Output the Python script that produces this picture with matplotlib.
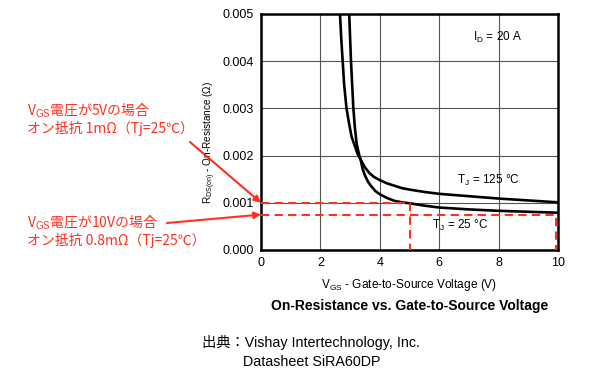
import matplotlib
matplotlib.use("Agg")
import matplotlib.pyplot as plt

plt.rcParams['font.family'] = ['Liberation Sans', 'Noto Sans CJK JP', 'DejaVu Sans']
plt.rcParams['mathtext.fontset'] = 'custom'
plt.rcParams['mathtext.rm'] = 'Liberation Sans'
plt.rcParams['mathtext.it'] = 'Liberation Sans'

# R_DS(on) vs V_GS (I_D = 20 A)
vgs_125 = [2.62, 2.66, 2.70, 2.75, 2.80, 2.88, 2.96, 3.05, 3.15, 3.25, 3.36, 3.50, 3.65,
           3.80, 4.00, 4.25, 4.50, 4.75, 5.0, 5.5, 6, 7, 8, 9, 10]
rds_125 = [0.0055, 0.0050, 0.0045, 0.0040, 0.0035, 0.0030, 0.0027, 0.0024, 0.00222, 0.00204,
           0.00191, 0.00175, 0.00163, 0.00155, 0.00148, 0.00141, 0.00136, 0.00131, 0.00128,
           0.00123, 0.00119, 0.00114, 0.00109, 0.00105, 0.00101]
vgs_25 = [2.95, 2.97, 3.00, 3.03, 3.07, 3.11, 3.16, 3.22, 3.30, 3.36, 3.42, 3.50, 3.60, 3.70,
          3.85, 4.00, 4.25, 4.50, 4.75, 5.0, 5.5, 6, 7, 8, 9, 10]
rds_25 = [0.0055, 0.0050, 0.0045, 0.0040, 0.0035, 0.0030, 0.0026, 0.00225, 0.00203, 0.0019,
          0.00172, 0.00158, 0.00145, 0.00136, 0.00125, 0.00118, 0.00110, 0.00104, 0.00101,
          0.00099, 0.00094, 0.00090, 0.00086, 0.00083, 0.00081, 0.00079]

# marked operating points
pt5_v, pt5_r = 5, 0.001
pt10_v, pt10_r = 9.94, 0.00075

xticks = [0, 2, 4, 6, 8, 10]
yticks = [0.000, 0.001, 0.002, 0.003, 0.004, 0.005]

RED = '#ff3020'
JP = ['Noto Sans CJK JP', 'DejaVu Sans']

fig = plt.figure(figsize=(6, 3.78), dpi=100)
ax = fig.add_axes([261/600, 1-250/378, 297/600, 236/378])

ax.plot(vgs_125, rds_125, color='black', lw=1.9, zorder=3)
ax.plot(vgs_25, rds_25, color='black', lw=1.9, zorder=3)

ax.plot([0, pt5_v, pt5_v], [pt5_r, pt5_r, 0], color=RED, lw=1.5, ls=(0, (4, 2.5)), zorder=4, clip_on=False)
ax.plot([0, pt10_v, pt10_v], [pt10_r, pt10_r, 0], color=RED, lw=1.5, ls=(0, (4, 2.5)), zorder=4, clip_on=False)

ax.set_xlim(0, 10)
ax.set_ylim(0, 0.005)
ax.set_xticks(xticks)
ax.set_yticks(yticks)
ax.set_yticklabels([f'{v:.3f}' for v in yticks])
ax.tick_params(length=0, labelsize=9, pad=5)
ax.grid(True, color='#555555', lw=0.8)
ax.set_axisbelow(True)
for s in ax.spines.values():
    s.set_linewidth(1.8)

ax.set_xlabel(r'V$_{\mathrm{GS}}$ - Gate-to-Source Voltage (V)', fontsize=8.6, labelpad=6)
ax.set_ylabel(r'R$_{\mathrm{DS(on)}}$ - On-Resistance (Ω)', fontsize=7.2)
ax.yaxis.set_label_coords(-0.145, 0.458)

ax.text(7.95, 0.00451, r'I$_{\mathrm{D}}$ = 20 A', fontsize=8.5, ha='center', va='center')
ax.text(7.64, 0.00148, r'T$_{\mathrm{J}}$ = 125 °C', fontsize=8.5, ha='center', va='center')
ax.text(6.7, 0.00051, r'T$_{\mathrm{J}}$ = 25 °C', fontsize=8.5, ha='center', va='center')

# red notes with arrows
fig.text(27/600, 1-111/378, 'V$_{\\mathrm{GS}}$電圧が5Vの場合', color=RED, fontsize=10, family=JP, va='center')
fig.text(27/600, 1-128/378, 'オン抵抗 1mΩ（Tj=25℃）', color=RED, fontsize=10, family=JP, va='center')
fig.text(27/600, 1-223/378, 'V$_{\\mathrm{GS}}$電圧が10Vの場合', color=RED, fontsize=10, family=JP, va='center')
fig.text(27/600, 1-240/378, 'オン抵抗 0.8mΩ（Tj=25℃）', color=RED, fontsize=10, family=JP, va='center')

ax.annotate('', xy=(0, pt5_r), xycoords='data', xytext=(190, 378-142), textcoords='figure pixels',
            arrowprops=dict(arrowstyle='-|>', color=RED, lw=1.5, mutation_scale=10, shrinkA=0, shrinkB=0),
            annotation_clip=False)
ax.annotate('', xy=(0, pt10_r), xycoords='data', xytext=(167, 378-223), textcoords='figure pixels',
            arrowprops=dict(arrowstyle='-|>', color=RED, lw=1.5, mutation_scale=10, shrinkA=0, shrinkB=0),
            annotation_clip=False)

fig.text(410/600, 1-306/378, 'On-Resistance vs. Gate-to-Source Voltage', fontsize=10,
         fontweight='bold', ha='center', va='center')
fig.text(202/600, 1-342/378, '出典：Vishay Intertechnology, Inc.', fontsize=10.3, va='center')
fig.text(243/600, 1-362/378, 'Datasheet SiRA60DP', fontsize=10.3, va='center')

fig.savefig('out.png', dpi=100)
